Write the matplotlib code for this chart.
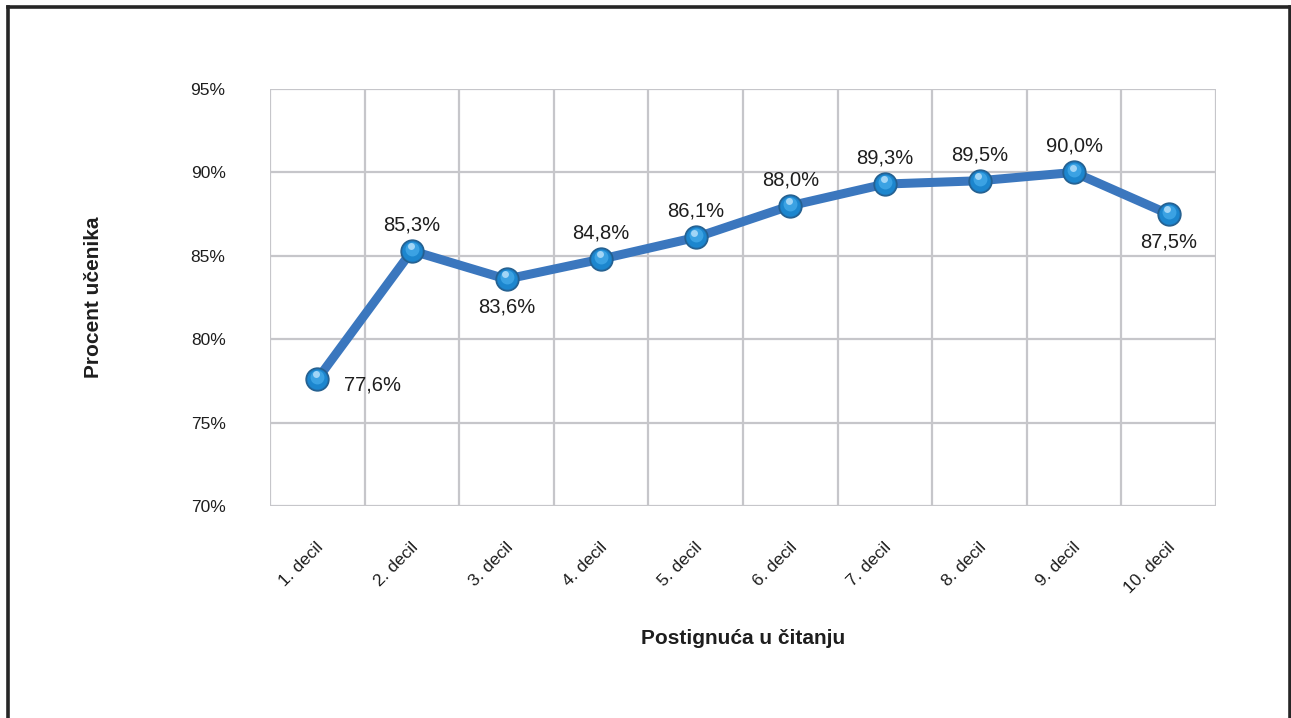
import matplotlib
matplotlib.use("Agg")
import matplotlib.pyplot as plt
from matplotlib.lines import Line2D
from matplotlib.ticker import FixedLocator, FuncFormatter
import matplotlib.transforms as mtransforms

plt.rcParams['font.family'] = ['Liberation Sans', 'DejaVu Sans']

# Data
categories = ["1. decil", "2. decil", "3. decil", "4. decil", "5. decil",
              "6. decil", "7. decil", "8. decil", "9. decil", "10. decil"]
values = [77.6, 85.3, 83.6, 84.8, 86.1, 88.0, 89.3, 89.5, 90.0, 87.5]
label_side = ["right", "above", "below", "above", "above",
              "above", "above", "above", "above", "below"]
y_ticks = [70, 75, 80, 85, 90, 95]

TEXT = "#1E1E1E"
GRID = "#C6C6CA"
LINE = "#3B77BE"

W, H = 1291, 718
fig = plt.figure(figsize=(W / 100, H / 100), dpi=100)
ax = fig.add_axes([270 / W, 1 - 506 / H, (1216 - 270) / W, (506 - 89) / H])

x = list(range(len(categories)))
ax.set_xlim(-0.5, len(categories) - 0.5)
ax.set_ylim(70, 95)

# Grid: horizontal at value ticks, vertical between categories
for yv in y_ticks:
    ax.axhline(yv, color=GRID, lw=1.6, zorder=1)
for b in range(len(categories) + 1):
    ax.axvline(b - 0.5, color=GRID, lw=1.6, zorder=1)
for s in ax.spines.values():
    s.set_visible(False)

ax.yaxis.set_major_locator(FixedLocator(y_ticks))
ax.yaxis.set_major_formatter(FuncFormatter(lambda v, p: f"{v:.0f}%"))
ax.set_xticks(x)
ax.set_xticklabels(categories, rotation=45, ha="right", va="center",
                   rotation_mode="anchor")
ax.tick_params(axis="both", length=0, colors=TEXT, labelsize=12.5)
ax.tick_params(axis="y", pad=32)
ax.tick_params(axis="x", pad=28)
shift = mtransforms.ScaledTranslation(4 / 100, 0, fig.dpi_scale_trans)
for lbl in ax.get_xticklabels():
    lbl.set_transform(lbl.get_transform() + shift)

# Series line
ax.plot(x, values, color=LINE, lw=6.5, solid_capstyle="round", zorder=3)

# Glossy sphere markers built from layered circles
ax.plot(x, values, ls="none", marker="o", ms=16.5, mfc="#1F6FAE",
        mec="#245F8E", mew=1.0, zorder=4)
ax.plot(x, values, ls="none", marker="o", ms=14.5, mfc="#1C86CE",
        mec="none", zorder=5)
up = mtransforms.offset_copy(ax.transData, fig=fig, x=0, y=1.5, units="points")
ax.plot(x, values, ls="none", marker="o", ms=10, mfc="#3FA6E6",
        mec="none", alpha=0.9, zorder=6, transform=up)
hl = mtransforms.offset_copy(ax.transData, fig=fig, x=-1.0, y=3.5, units="points")
ax.plot(x, values, ls="none", marker="o", ms=5, mfc="#CDEBFF",
        mec="none", alpha=0.7, zorder=7, transform=hl)

# Value labels
for xi, v, side in zip(x, values, label_side):
    txt = f"{v:.1f}%".replace(".", ",")
    if side == "above":
        off, ha, va = (0, 12), "center", "bottom"
    elif side == "below":
        off, ha, va = (0, -13), "center", "top"
    else:
        off, ha, va = (19, -4), "left", "center"
    ax.annotate(txt, (xi, v), xytext=off, textcoords="offset points",
                ha=ha, va=va, fontsize=14.5, color=TEXT, zorder=8)

ax.set_ylabel("Procent učenika", fontsize=15, fontweight="bold",
              color=TEXT, labelpad=0)
ax.yaxis.set_label_coords((103 - 270) / (1216 - 270), 0.5)
ax.set_xlabel("Postignuća u čitanju", fontsize=15, fontweight="bold",
              color=TEXT)
ax.xaxis.set_label_coords(0.5, (506 - 629) / (506 - 89))

# Outer frame (open at the bottom)
frame_kw = dict(color="#262626", lw=2.6, transform=fig.transFigure)
fig.add_artist(Line2D([7.5 / W, 7.5 / W], [0, 1 - 6.5 / H], **frame_kw))
fig.add_artist(Line2D([7.5 / W, 1289.5 / W], [1 - 6.5 / H, 1 - 6.5 / H], **frame_kw))
fig.add_artist(Line2D([1289.5 / W, 1289.5 / W], [0, 1 - 6.5 / H], **frame_kw))

fig.savefig("out.png", dpi=100, facecolor="white")
